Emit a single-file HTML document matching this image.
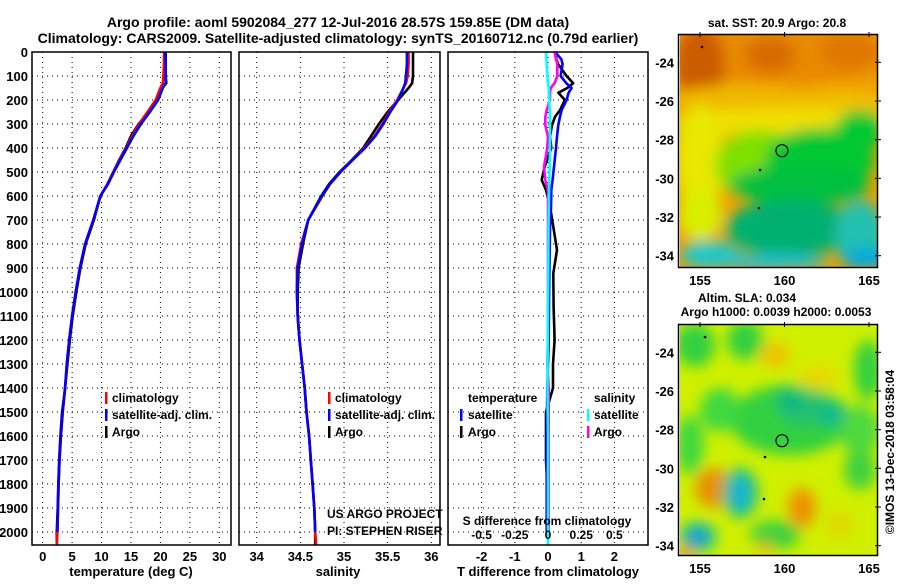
<!DOCTYPE html>
<html><head><meta charset="utf-8">
<style>
html,body{margin:0;padding:0;background:#fff;}
body{width:900px;height:580px;overflow:hidden;}
svg text{font-family:"Liberation Sans",Arial,sans-serif;font-weight:bold;fill:#000;}
</style></head>
<body>
<svg id="fig" width="900" height="580" viewBox="0 0 900 580" xmlns="http://www.w3.org/2000/svg">
<defs>
<filter id="blur6" x="-20%" y="-20%" width="140%" height="140%"><feGaussianBlur stdDeviation="7"/></filter>
<clipPath id="clipTop"><rect x="680" y="35" width="198" height="232"/></clipPath>
<clipPath id="clipBot"><rect x="680" y="325" width="198" height="230"/></clipPath>
</defs>
<text x="338" y="27" font-size="14" text-anchor="middle">Argo profile: aoml 5902084_277 12-Jul-2016 28.57S 159.85E (DM data)</text>
<text x="338" y="43" font-size="14" text-anchor="middle">Climatology: CARS2009. Satellite-adjusted climatology: synTS_20160712.nc (0.79d earlier)</text>
<g id="panels"></g>
<g id="maps"></g>
</svg>
<script>
// ---- data ----
const depthTicks = [0,100,200,300,400,500,600,700,800,900,1000,1100,1200,1300,1400,1500,1600,1700,1800,1900,2000];
const profDepth = [0,50,100,130,150,200,250,300,350,400,450,500,550,600,700,800,900,1000,1100,1200,1300,1400,1500,1600,1700,1800,1900,2000,2054];
const tempClim = [20.6,20.6,20.5,20.4,20.0,19.2,17.8,16.4,15.2,14.2,13.1,12.0,11.0,9.8,8.6,7.2,6.3,5.6,5.0,4.5,4.1,3.8,3.4,3.1,2.85,2.7,2.6,2.5,2.4];
const tempSat  = [20.8,20.9,20.9,20.9,20.4,19.6,18.2,16.7,15.4,14.3,13.2,12.1,11.1,9.8,8.6,7.2,6.3,5.6,5.0,4.5,4.1,3.8,3.4,3.1,2.85,2.7,2.6,2.5,2.5];
const tempArgo = [20.9,20.9,20.9,21.0,20.3,19.5,18.0,16.3,15.0,14.1,13.0,12.0,11.0,9.8,8.7,7.3,6.4,5.7,5.1,4.6,4.2,3.8,3.3,3.0,2.8,2.65,2.55,2.4,2.4];
const salClim = [35.74,35.74,35.73,35.71,35.68,35.61,35.52,35.44,35.35,35.23,35.10,34.96,34.84,34.75,34.59,34.51,34.46,34.46,34.47,34.49,34.52,34.55,34.57,34.60,34.62,34.64,34.66,34.67,34.68];
const salSat  = [35.72,35.72,35.71,35.70,35.68,35.62,35.53,35.45,35.36,35.24,35.10,34.96,34.84,34.75,34.59,34.52,34.47,34.46,34.47,34.49,34.52,34.55,34.57,34.60,34.62,34.64,34.66,34.67,34.67];
const salArgo = [35.79,35.79,35.79,35.78,35.74,35.62,35.50,35.40,35.31,35.22,35.09,34.95,34.83,34.74,34.59,34.53,34.48,34.47,34.47,34.49,34.52,34.55,34.57,34.60,34.62,34.64,34.66,34.67,34.67];
const diffDepth = [0,30,50,100,130,150,170,200,242,270,304,353,400,478,533,575,644,728,825,922,1061,1200,1300,1400,1500,1600,1700,1800,1900,2000];
const tDiffSat  = [0.21,0.40,0.44,0.38,0.55,0.71,0.62,0.56,0.41,0.36,0.31,0.27,0.24,0.18,0.14,0.10,0.09,0.06,0.05,0.04,0.03,0.02,0.0,-0.02,-0.03,-0.04,-0.04,-0.04,-0.04,-0.04];
const tDiffArgo = [0.21,0.25,0.30,0.56,0.76,0.58,0.31,0.51,0.36,0.21,0.12,0.06,0.10,-0.10,-0.19,-0.06,0.06,0.16,0.27,0.16,0.17,0.20,0.15,0.15,-0.06,-0.06,-0.06,-0.02,-0.02,-0.02];
const sDiffSat  = [-0.015,-0.012,-0.010,-0.005,0.0,0.005,0.008,0.010,0.013,0.015,0.015,0.015,0.015,0.012,0.01,0.008,0.006,0.004,0.003,0.002,0.0,-0.002,-0.004,-0.004,-0.002,0.0,0.0,0.0,0.0,0.0];
const sDiffArgo = [0.05,0.06,0.07,0.07,0.05,0.02,0.015,0.015,-0.01,-0.02,-0.02,0.0,-0.005,-0.03,-0.02,0.0,0.0,0.0,0.0,0.0,0.0,0.0,-0.005,0.005,0.005,0.005,0.005,0.005,0.005,0.005];
const tempTicks = [0,5,10,15,20,25,30];
const salTicks = [34,34.5,35,35.5,36];
const salTickLabels = ["34","34.5","35","35.5","36"];
const tdTicks = [-2,-1,0,1,2];
const sdTickLabels = ["-0.5","-0.25","0","0.25","0.5"];
const latTicks = [-24,-26,-28,-30,-32,-34];
const lonTicks = [155,160,165];
const argoLat = -28.57, argoLon = 159.85;

const NS='http://www.w3.org/2000/svg';
function el(tag, attrs, parent){const e=document.createElementNS(NS,tag);for(const k in attrs)e.setAttribute(k,attrs[k]);parent.appendChild(e);return e;}
const panels=document.getElementById('panels');
const yOf = d => 52 + d*0.24;
const TOP=52, BOT=545;

function lin(v0,p0,v1,p1){return v=>p0+(v-v0)*(p1-p0)/(v1-v0);}
const xT = lin(0,42.7,30,219.3);
const xS = lin(34,256.7,36,431.3);
const xTD = lin(0,548,1,581.2);
const xSD = lin(0,548,0.25,581.2);

function panelFrame(name,x0,x1,xs){
  const g=el('g',{},panels);
  
  
  for(const d of depthTicks){ if(d===0)continue;
    const l=el('line',{x1:x0,x2:x1,y1:yOf(d),y2:yOf(d),stroke:'#000','stroke-width':1,'stroke-dasharray':'1,4'},g);
    
    
  }
  for(const x of xs){
    const l=el('line',{x1:x,x2:x,y1:TOP,y2:BOT,stroke:'#000','stroke-width':1,'stroke-dasharray':'1,4'},g);
    
    
  }
  return g;
}
function drawLine(g,xs,ds,vals,xf,col,name){
  let p='';
  for(let i=0;i<vals.length;i++){p+=(i?'L':'M')+xf(vals[i]).toFixed(1)+','+yOf(ds[i]).toFixed(1);}
  const e=el('path',{d:p,fill:'none',stroke:col,'stroke-width':2.6,'stroke-linejoin':'round'},g);
  
  
}
function border(g,x0,x1){
  const r=el('rect',{x:x0,y:TOP,width:x1-x0,height:BOT-TOP,fill:'none',stroke:'#000','stroke-width':1.5},g);
  
  
}
function txt(g,x,y,s,size,anchor,name,extra){
  const t=el('text',Object.assign({x:x,y:y,'font-size':size,'text-anchor':anchor||'start'},extra||{}),g);
  t.textContent=s;
  
  
  return t;
}
function legendBar(g,x,y,col){
  const r=el('rect',{x:x,y:y-10,width:2.5,height:12,fill:col},g);
  
  
}

// Panel 1: temperature
let g1=panelFrame('temperature-panel',32,231,tempTicks.map(xT));
drawLine(g1,null,profDepth,tempArgo,xT,'#000','temp-argo-line');
drawLine(g1,null,profDepth,tempClim,xT,'#f00','temp-climatology-line');
drawLine(g1,null,profDepth,tempSat.slice(0,-1),xT,'#00f','temp-satellite-line');
border(g1,32,231);
for(const d of depthTicks) txt(g1,28,yOf(d)+5,String(d),13,'end','depth-tick-label');
tempTicks.forEach(v=>txt(g1,xT(v),561,String(v),13,'middle','temp-tick-label'));
txt(g1,131,576,'temperature (deg C)',13,'middle','x-axis-title-temperature');
legendBar(g1,105,402,'#f00');txt(g1,112,402,'climatology',12,'start','legend-climatology');
legendBar(g1,105,419,'#00f');txt(g1,112,419,'satellite-adj. clim.',12,'start','legend-satellite');
legendBar(g1,105,436,'#000');txt(g1,112,436,'Argo',12,'start','legend-argo');

// Panel 2: salinity
let g2=panelFrame('salinity-panel',239,440,salTicks.map(xS));
drawLine(g2,null,profDepth,salArgo,xS,'#000','sal-argo-line');
drawLine(g2,null,profDepth,salClim,xS,'#f00','sal-climatology-line');
drawLine(g2,null,profDepth,salSat.slice(0,-1),xS,'#00f','sal-satellite-line');
border(g2,239,440);
salTicks.forEach((v,i)=>txt(g2,xS(v),561,salTickLabels[i],13,'middle','sal-tick-label'));
txt(g2,338,576,'salinity',13,'middle','x-axis-title-salinity');
legendBar(g2,328,402,'#f00');txt(g2,335,402,'climatology',12,'start','legend-climatology');
legendBar(g2,328,419,'#00f');txt(g2,335,419,'satellite-adj. clim.',12,'start','legend-satellite');
legendBar(g2,328,436,'#000');txt(g2,335,436,'Argo',12,'start','legend-argo');
txt(g2,327,518,'US ARGO PROJECT',12,'start','credit-project',{'font-weight':'normal'});
txt(g2,327,535,'PI: STEPHEN RISER',12,'start','credit-pi',{'font-weight':'normal'});

// Panel 3: differences
let g3=panelFrame('difference-panel',448,648,tdTicks.map(xTD));
drawLine(g3,null,diffDepth,tDiffArgo,xTD,'#000','tdiff-argo-line');
drawLine(g3,null,diffDepth,tDiffSat,xTD,'#00f','tdiff-satellite-line');
drawLine(g3,null,diffDepth,sDiffArgo,xSD,'#f0f','sdiff-argo-line');
drawLine(g3,null,diffDepth.concat([2054]),sDiffSat.concat([0]),xSD,'#0ff','sdiff-satellite-line');
border(g3,448,648);
tdTicks.forEach(v=>txt(g3,xTD(v),561,String(v),13,'middle','tdiff-tick-label'));
txt(g3,548,576,'T difference from climatology',13,'middle','x-axis-title-tdiff');
txt(g3,547,525,'S difference from climatology',12,'middle','sdiff-axis-title');
sdTickLabels.forEach((s,i)=>txt(g3,xTD(tdTicks[i]),539,s,12,'middle','sdiff-tick-label'));
txt(g3,468,402,'temperature',12,'start','legend-temperature-heading');
legendBar(g3,460,419,'#00f');txt(g3,468,419,'satellite',12,'start','legend-t-satellite');
legendBar(g3,460,436,'#000');txt(g3,468,436,'Argo',12,'start','legend-t-argo');
txt(g3,594,402,'salinity',12,'start','legend-salinity-heading');
legendBar(g3,587,419,'#0ff');txt(g3,594,419,'satellite',12,'start','legend-s-satellite');
legendBar(g3,587,436,'#f0f');txt(g3,594,436,'Argo',12,'start','legend-s-argo');

// ---- maps ----
const maps=document.getElementById('maps');
const lonX = lin(155,700,165,869);
function mapFrame(name,top,bot,latY,clip,blobs,base){
  const g=el('g',{},maps);
  
  
  const c=el('g',{'clip-path':'url(#'+clip+')'},g);
  el('rect',{x:680,y:top,width:198,height:bot-top,fill:base},c);
  const b=el('g',{filter:'url(#blur6)'},c);
  for(const o of blobs){el('ellipse',{cx:o[0],cy:o[1],rx:o[2],ry:o[3],fill:o[4]},b);}
  el('circle',{cx:lonX(argoLon),cy:latY(argoLat),r:6,fill:'none',stroke:'#000','stroke-width':1.2},c);
  el('rect',{x:678.5,y:top-0.5,width:199,height:bot-top+1,fill:'none',stroke:'#000','stroke-width':1.5},g);
  for(const la of latTicks){
    el('line',{x1:875,x2:881,y1:latY(la),y2:latY(la),stroke:'#000','stroke-width':1},g);
    txt(g,674,latY(la)+5,String(la),13,'end','lat-tick-label');
  }
  for(const lo of lonTicks){
    el('line',{x1:lonX(lo),x2:lonX(lo),y1:top-3,y2:top+2,stroke:'#000','stroke-width':1},g);
    txt(g,lonX(lo),bot+18,String(lo),13,'middle','lon-tick-label');
  }
  return g;
}
const latTop = lin(-24,62.3,-34,255.7);
mapFrame('sst-map',35,267,latTop,'clipTop',[
 [780,55,130,28,'#e88a00'],[700,65,25,40,'#cc5c00'],[770,55,25,18,'#d86a00'],[850,50,30,20,'#e07800'],
 [740,100,70,15,'#f0b800'],[840,105,50,15,'#f0c000'],
 [780,122,110,14,'#f0e000'],[700,160,25,55,'#e8e800'],[700,215,22,25,'#d8f000'],
 [760,165,45,35,'#80e000'],[820,160,55,32,'#00c830'],[860,130,25,20,'#00c830'],[800,185,70,20,'#00c040'],
 [790,228,65,28,'#00b070'],[860,235,25,35,'#20c0b0'],[870,258,30,10,'#00a8e0'],[710,255,30,14,'#20c8c8'],[770,262,60,8,'#20c0d0']
],'#f0a000');
txt(maps,777,27,'sat. SST: 20.9 Argo: 20.8',12,'middle','sst-map-title');
txt(maps,747,302,'Altim. SLA: 0.034',12,'middle','sla-map-title');
txt(maps,776,316,'Argo h1000: 0.0039 h2000: 0.0053',12,'middle','sla-map-subtitle');
const latBot = lin(-24,352.3,-34,545.7);
mapFrame('sla-map',325,555,latBot,'clipBot',[
 [695,345,20,22,'#30d040'],[745,340,18,20,'#30d040'],[790,420,60,35,'#30d040'],[720,410,20,22,'#40d840'],
 [805,410,25,15,'#20c070'],[833,415,14,12,'#10b890'],[790,400,14,12,'#10b880'],
 [868,370,14,30,'#30d040'],[690,445,14,30,'#40d840'],[860,430,20,25,'#50d840'],
 [775,355,15,12,'#f0c000'],[818,378,20,12,'#e8d800'],
 [713,488,18,20,'#e89000'],[802,508,14,20,'#f09000'],[740,493,18,25,'#20c070'],[740,493,12,20,'#10c0c0'],[740,493,6,10,'#20a8e0'],
 [698,537,18,15,'#10c0a0'],[697,537,9,8,'#2090e0'],[775,535,25,15,'#40d040'],[860,470,16,20,'#40d040'],[840,525,14,14,'#e0d800'],[765,548,8,6,'#f0b000'],[686,553,8,6,'#f08000']
],'#d0f000');
txt(maps,0,0,'\u00a9IMOS 13-Dec-2018 03:58:04',12,'middle','copyright-label',{'font-weight':'normal',transform:'translate(894,452) rotate(-90)'});
[[702,47],[760,170],[759,208]].forEach(p=>{const d=el('circle',{cx:p[0],cy:p[1],r:1.3,fill:'#000'},maps);});
[[705,337],[765,457],[764,499]].forEach(p=>{const d=el('circle',{cx:p[0],cy:p[1],r:1.3,fill:'#000'},maps);});
</script>
</body></html>
